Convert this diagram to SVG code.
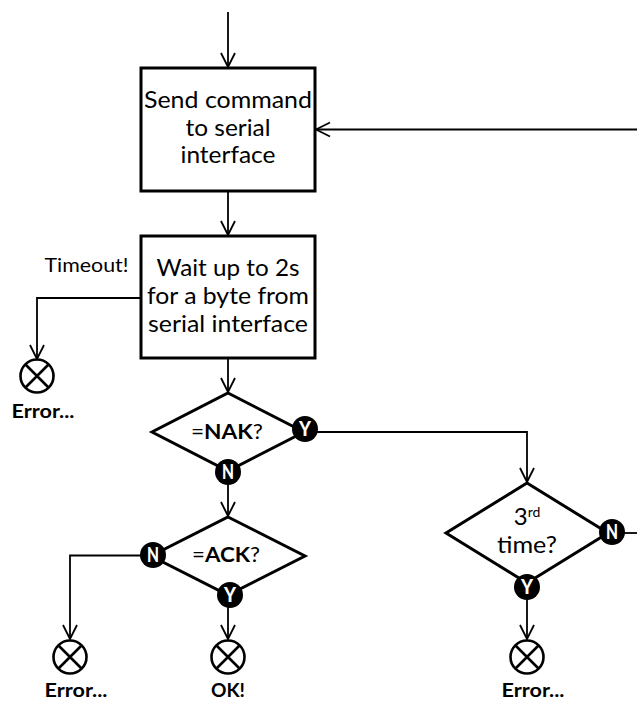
<svg xmlns="http://www.w3.org/2000/svg" width="637" height="701" viewBox="0 0 637 701">
<style>
text{font-family:"Lato","Open Sans","Liberation Sans",sans-serif;fill:#000;text-anchor:middle}
.m{font-size:24px}
.q{font-size:20.500px}
.b{font-size:19px;font-weight:700}
.t{font-size:19px}
.s{fill:#fff;stroke:#000;stroke-width:3}
.c{fill:none;stroke:#000;stroke-width:1.8}
.k{fill:#000;stroke:none}
.k2{fill:#fff;font-size:20px;font-weight:900}
.x{fill:none;stroke:#000;stroke-width:2.6}
</style>
<defs>
<marker id="a" markerUnits="userSpaceOnUse" markerWidth="18" markerHeight="20" refX="15" refY="8" orient="auto" viewBox="0 0 18 16"><path d="M1 1L15 8L1 15" fill="none" stroke="#000" stroke-width="1.8"/></marker>
<g id="end"><circle r="16.5" class="x"/><path d="M-11.5-11.5L11.500 11.500M-11.500 11.500L11.500-11.500" class="x"/></g>
</defs>
<g id="connectors">
<path class="c" marker-end="url(#a)" d="M228 12V67"/>
<path class="c" marker-end="url(#a)" d="M637 129.500H316"/>
<path class="c" marker-end="url(#a)" d="M228 191V235"/>
<path class="c" marker-end="url(#a)" d="M141 298H37V359"/>
<path class="c" marker-end="url(#a)" d="M228 358V392"/>
<path class="c" marker-end="url(#a)" d="M228 472V516"/>
<path class="c" marker-end="url(#a)" d="M305 432H527V482"/>
<path class="c" marker-end="url(#a)" d="M153 555.500H70V639"/>
<path class="c" marker-end="url(#a)" d="M228 595V639"/>
<path class="c" marker-end="url(#a)" d="M527 587V639"/>
<path class="c" d="M612 533H637"/>
</g>
<g id="n1"><rect class="s" x="141" y="68" width="174" height="123"/>
<text class="m" x="228" y="108" textLength="168" lengthAdjust="spacingAndGlyphs">Send command</text><text class="m" x="228" y="136" textLength="85" lengthAdjust="spacingAndGlyphs">to serial</text><text class="m" x="228" y="163" textLength="95" lengthAdjust="spacingAndGlyphs">interface</text></g>
<g id="n2"><rect class="s" x="141" y="236" width="174" height="122"/>
<text class="m" x="228" y="276" textLength="143" lengthAdjust="spacingAndGlyphs">Wait up to 2s</text><text class="m" x="228" y="304" textLength="162" lengthAdjust="spacingAndGlyphs">for a byte from</text><text class="m" x="228" y="332" textLength="160" lengthAdjust="spacingAndGlyphs">serial interface</text></g>
<g id="timeout"><text class="t" x="86.500" y="272" textLength="84" lengthAdjust="spacingAndGlyphs">Timeout!</text></g>
<g id="e1"><use href="#end" x="37" y="376"/><text class="b" x="43" y="418" textLength="63" lengthAdjust="spacingAndGlyphs">Error...</text></g>
<g id="d1"><polygon class="s" points="228,393 304,432 228,471 152,432"/>
<text class="q" x="227" y="439" textLength="72" lengthAdjust="spacingAndGlyphs">=<tspan font-weight="700">NAK</tspan>?</text>
<circle class="k" cx="305" cy="429" r="13"/><text class="k2" x="305" y="436" textLength="12" lengthAdjust="spacingAndGlyphs">Y</text>
<circle class="k" cx="228" cy="472" r="13"/><text class="k2" x="228" y="479" textLength="12" lengthAdjust="spacingAndGlyphs">N</text></g>
<g id="d2"><polygon class="s" points="228,517 305,556 228,595 151,556"/>
<text class="q" x="226" y="562" textLength="68" lengthAdjust="spacingAndGlyphs">=<tspan font-weight="700">ACK</tspan>?</text>
<circle class="k" cx="153" cy="555" r="13"/><text class="k2" x="153" y="562" textLength="12" lengthAdjust="spacingAndGlyphs">N</text>
<circle class="k" cx="230" cy="595" r="13"/><text class="k2" x="230" y="602" textLength="12" lengthAdjust="spacingAndGlyphs">Y</text></g>
<g id="d3"><polygon class="s" points="527,483 608,533 527,583 446,533"/>
<text class="m" x="527" y="525">3<tspan dy="-8" style="font-size:14px">rd</tspan></text><text class="m" x="527" y="553" textLength="60" lengthAdjust="spacingAndGlyphs">time?</text>
<circle class="k" cx="612" cy="532" r="13"/><text class="k2" x="612" y="539" textLength="12" lengthAdjust="spacingAndGlyphs">N</text>
<circle class="k" cx="527" cy="587" r="13"/><text class="k2" x="527" y="594" textLength="12" lengthAdjust="spacingAndGlyphs">Y</text></g>
<g id="e2"><use href="#end" x="70" y="657"/><text class="b" x="76" y="697" textLength="63" lengthAdjust="spacingAndGlyphs">Error...</text></g>
<g id="e3"><use href="#end" x="228" y="657"/><text class="b" x="228" y="697" textLength="34" lengthAdjust="spacingAndGlyphs">OK!</text></g>
<g id="e4"><use href="#end" x="527" y="657"/><text class="b" x="533" y="697" textLength="63" lengthAdjust="spacingAndGlyphs">Error...</text></g>
</svg>
